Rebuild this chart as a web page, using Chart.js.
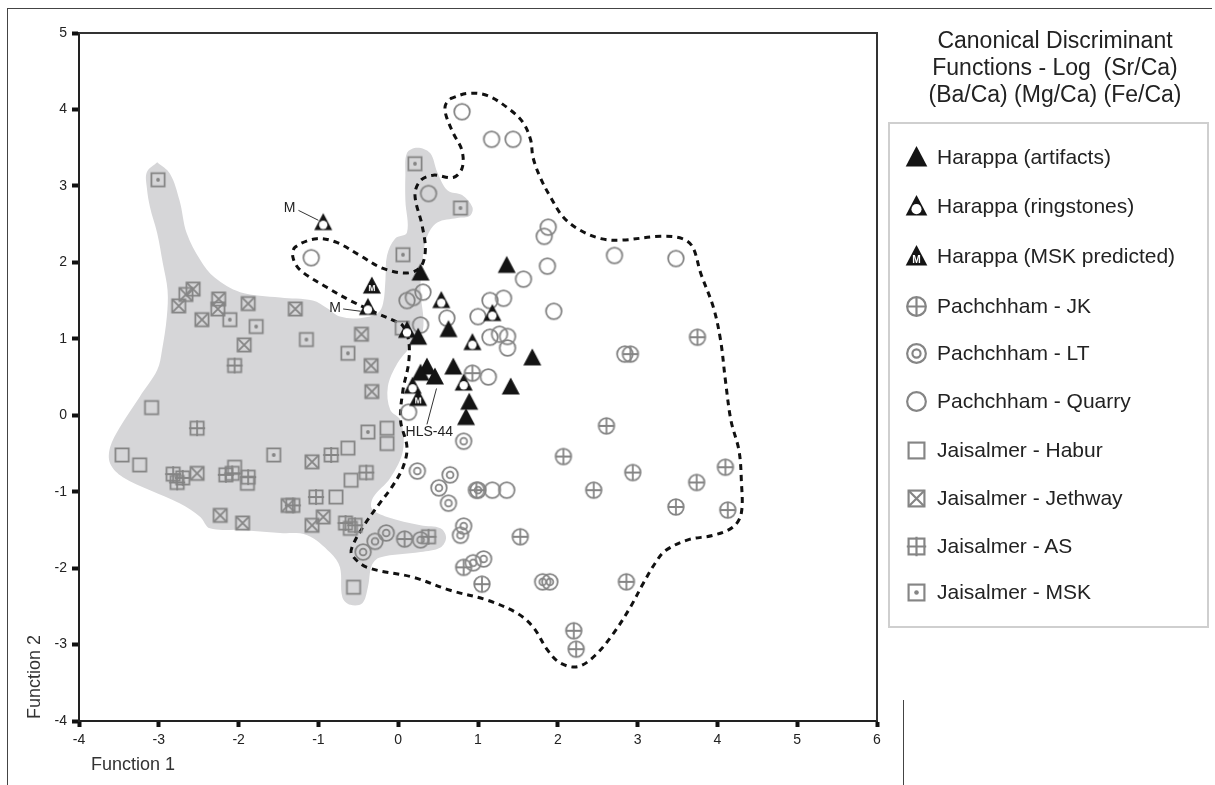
<!DOCTYPE html>
<html><head><meta charset="utf-8">
<script src="https://cdn.jsdelivr.net/npm/chart.js@4.4.1/dist/chart.umd.min.js"></script>
<style>
html,body{margin:0;padding:0;background:#fff;}
#wrap{position:relative;width:1215px;height:785px;overflow:hidden;font-family:"Liberation Sans",Arial,sans-serif;}
#c{position:absolute;left:0;top:0;}
#frameTop{position:absolute;left:7px;top:8px;width:1205px;height:0;border-top:1px solid #444;}
#frameLeft{position:absolute;left:7px;top:8px;width:0;height:790px;border-left:1px solid #444;}
#frameRight{position:absolute;left:903px;top:700px;width:0;height:90px;border-left:1px solid #444;}
#title{position:absolute;left:895px;width:320px;top:27px;text-align:center;font-size:23px;line-height:27px;color:#222;}
#legend{position:absolute;left:888px;top:122px;width:321px;height:506px;border:2px solid #cfcfcf;box-sizing:border-box;}
.item{position:absolute;left:12px;height:30px;display:flex;align-items:center;font-size:21px;color:#222;white-space:nowrap;}
.item canvas{margin-right:6px;}
</style></head>
<body><div id="wrap">
<canvas id="c" width="1215" height="785"></canvas>
<div id="frameTop"></div><div id="frameLeft"></div><div id="frameRight"></div>
<div id="title">Canonical Discriminant<br>Functions - Log&nbsp; (Sr/Ca)<br>(Ba/Ca) (Mg/Ca) (Fe/Ca)</div>
<div id="legend"></div>
</div>
<script>
// ---- categories ----
const seriesNames = ["Harappa (artifacts)","Harappa (ringstones)","Harappa (MSK predicted)","Pachchham - JK","Pachchham - LT","Pachchham - Quarry","Jaisalmer - Habur","Jaisalmer - Jethway","Jaisalmer - AS","Jaisalmer - MSK"];
const xTicks = [-4,-3,-2,-1,0,1,2,3,4,5,6];
const yTicks = [-4,-3,-2,-1,0,1,2,3,4,5];

// ---- series values [Function 1, Function 2] ----
const harappaArtifacts = [[0.28,1.86],[1.36,1.96],[0.63,1.12],[0.25,1.02],[0.36,0.63],[0.28,0.55],[0.46,0.50],[0.69,0.63],[1.68,0.75],[1.41,0.37],[0.89,0.17],[0.85,-0.03]];
const harappaRingstones = [[-0.94,2.52],[-0.38,1.41],[0.54,1.50],[1.18,1.33],[0.93,0.95],[0.11,1.11],[0.82,0.42],[0.18,0.38]];
const harappaMSKPredicted = [[-0.33,1.69],[0.25,0.22]];
const pachchhamJK = [[0.93,0.55],[2.61,-0.14],[2.07,-0.54],[2.94,-0.75],[2.45,-0.98],[4.10,-0.68],[3.74,-0.88],[3.48,-1.20],[4.13,-1.24],[1.53,-1.59],[2.86,-2.18],[2.20,-2.82],[2.23,-3.06],[2.91,0.80],[3.75,1.02],[0.98,-0.98],[0.08,-1.62],[0.82,-1.99],[1.05,-2.21]];
const pachchhamLT = [[0.82,-0.34],[0.24,-0.73],[0.65,-0.78],[0.51,-0.95],[0.63,-1.15],[1.00,-0.98],[-0.44,-1.79],[-0.29,-1.65],[-0.15,-1.54],[0.28,-1.63],[0.82,-1.45],[0.78,-1.57],[0.94,-1.93],[1.07,-1.88],[1.81,-2.18],[1.90,-2.18]];
const pachchhamQuarry = [[0.80,3.97],[1.17,3.61],[1.44,3.61],[0.38,2.90],[1.88,2.46],[1.83,2.34],[1.87,1.95],[2.71,2.09],[3.48,2.05],[1.57,1.78],[1.95,1.36],[-1.09,2.06],[0.11,1.50],[0.19,1.54],[0.31,1.61],[0.28,1.18],[0.61,1.27],[1.15,1.50],[1.32,1.53],[1.00,1.29],[1.15,1.02],[1.27,1.06],[1.37,1.03],[1.37,0.88],[1.13,0.50],[0.13,0.04],[2.84,0.80],[1.18,-0.98],[1.36,-0.98]];
const jaisalmerHabur = [[-3.09,0.10],[-3.46,-0.52],[-3.24,-0.65],[-2.05,-0.68],[-1.89,-0.89],[-0.78,-1.07],[-0.63,-0.43],[-0.59,-0.85],[-0.14,-0.17],[-0.14,-0.37],[-0.60,-1.48],[-0.56,-2.25],[0.05,1.14]];
const jaisalmerJethway = [[-2.57,1.65],[-2.66,1.58],[-2.75,1.43],[-2.46,1.25],[-2.25,1.52],[-2.26,1.39],[-1.88,1.46],[-1.29,1.39],[-1.93,0.92],[-0.46,1.06],[-0.34,0.65],[-0.33,0.31],[-2.52,-0.76],[-1.08,-0.61],[-1.38,-1.18],[-2.23,-1.31],[-1.95,-1.41],[-0.94,-1.33],[-1.08,-1.44]];
const jaisalmerAS = [[-2.05,0.65],[-2.52,-0.17],[-2.82,-0.77],[-2.77,-0.88],[-2.70,-0.82],[-2.16,-0.78],[-2.08,-0.76],[-1.88,-0.81],[-0.84,-0.52],[-0.40,-0.75],[-1.03,-1.07],[-1.32,-1.18],[-0.66,-1.41],[-0.54,-1.44],[0.38,-1.59]];
const jaisalmerMSK = [[-3.01,3.08],[-2.11,1.25],[-1.78,1.16],[-1.15,0.99],[-0.63,0.81],[-1.56,-0.52],[-0.38,-0.22],[0.06,2.10],[0.21,3.29],[0.78,2.71]];

// ---- group outlines (data units) ----
const jaisalmerRegion = [[-3.02,3.31],[-2.86,3.16],[-2.74,2.81],[-2.65,2.38],[-2.48,2.03],[-2.30,1.80],[-1.98,1.61],[-1.48,1.54],[-1.07,1.50],[-0.89,1.40],[-0.73,1.29],[-0.48,1.27],[-0.26,1.33],[-0.19,1.46],[-0.16,1.77],[-0.14,2.09],[-0.04,2.31],[0.11,2.39],[0.09,2.81],[0.09,3.14],[0.11,3.43],[0.24,3.50],[0.40,3.43],[0.49,3.18],[0.62,2.94],[0.80,2.88],[0.93,2.72],[0.90,2.61],[0.74,2.58],[0.49,2.52],[0.36,2.33],[0.30,1.99],[0.28,1.63],[0.31,1.11],[0.15,0.89],[-0.01,0.68],[-0.13,0.37],[-0.10,0.07],[0.03,-0.07],[0.06,-0.46],[-0.10,-0.82],[-0.31,-1.07],[-0.33,-1.22],[-0.14,-1.33],[0.28,-1.44],[0.53,-1.48],[0.60,-1.60],[0.53,-1.73],[0.28,-1.79],[-0.23,-1.86],[-0.33,-1.96],[-0.38,-2.25],[-0.45,-2.46],[-0.60,-2.48],[-0.70,-2.38],[-0.73,-1.99],[-0.85,-1.80],[-1.14,-1.57],[-1.48,-1.54],[-1.98,-1.50],[-2.36,-1.48],[-2.48,-1.33],[-2.74,-1.15],[-3.11,-0.98],[-3.45,-0.81],[-3.61,-0.63],[-3.61,-0.42],[-3.49,-0.16],[-3.24,0.24],[-3.02,0.59],[-2.96,0.85],[-2.90,1.28],[-2.89,1.63],[-2.95,1.99],[-3.02,2.38],[-3.11,2.72],[-3.15,2.98],[-3.15,3.18],[-3.02,3.31]];
const pachchhamContour = [[0.65,4.14],[0.87,4.21],[1.12,4.18],[1.41,3.99],[1.57,3.82],[1.66,3.60],[1.69,3.37],[1.78,3.11],[1.91,2.85],[2.07,2.59],[2.28,2.42],[2.54,2.31],[2.79,2.29],[3.29,2.34],[3.56,2.31],[3.69,2.20],[3.79,1.86],[3.95,1.41],[4.04,0.98],[4.10,0.46],[4.17,-0.07],[4.27,-0.46],[4.30,-0.85],[4.30,-1.28],[4.20,-1.46],[3.95,-1.57],[3.63,-1.63],[3.35,-1.77],[3.23,-1.92],[3.07,-2.20],[2.91,-2.51],[2.70,-2.85],[2.47,-3.14],[2.25,-3.29],[2.03,-3.24],[1.87,-3.07],[1.69,-2.77],[1.49,-2.59],[1.12,-2.42],[0.65,-2.29],[0.19,-2.12],[-0.39,-1.99],[-0.58,-1.83],[-0.58,-1.73],[-0.44,-1.46],[-0.23,-1.15],[-0.08,-0.94],[0.06,-0.68],[0.11,-0.42],[0.03,-0.07],[0.06,0.33],[0.13,0.68],[0.13,0.98],[0.05,1.18],[-0.06,1.24],[-0.26,1.33],[-0.60,1.50],[-0.89,1.67],[-1.23,1.90],[-1.32,2.07],[-1.29,2.20],[-1.02,2.31],[-0.77,2.26],[-0.48,2.09],[-0.19,1.92],[0.11,1.86],[0.28,1.94],[0.34,2.16],[0.30,2.48],[0.21,2.88],[0.28,3.07],[0.44,3.14],[0.69,3.11],[0.80,3.23],[0.80,3.46],[0.69,3.69],[0.60,3.92],[0.59,4.05],[0.65,4.14]];

// ---- annotations: [text, textX, textY, lineX1, lineY1, lineX2, lineY2] ----
const annotations = [["M",-1.36,2.71,-1.25,2.68,-1.00,2.55],["M",-0.79,1.40,-0.69,1.39,-0.47,1.36],["HLS-44",0.39,-0.22,0.36,-0.12,0.48,0.35]];

const FONT = '"Liberation Sans", Arial, sans-serif';
const GRAY = '#858585';

function makeMarker(kind, k) {
  const s = Math.ceil(24 * k); const c = document.createElement('canvas'); c.width = s; c.height = s;
  const g = c.getContext('2d'); const m = s / 2;
  g.lineWidth = 1.8 * k; g.strokeStyle = GRAY; g.fillStyle = GRAY;
  const r = 7.8 * k, h = 6.6 * k;
  if (kind.startsWith('tri')) {
    g.fillStyle = '#141414'; g.beginPath();
    g.moveTo(m, m - 9.5 * k); g.lineTo(m + 9 * k, m + 7.5 * k); g.lineTo(m - 9 * k, m + 7.5 * k); g.closePath(); g.fill();
    if (kind === 'triO') { g.fillStyle = '#fff'; g.beginPath(); g.arc(m, m + 2.2 * k, 4.2 * k, 0, 2 * Math.PI); g.fill(); }
    if (kind === 'triM') { g.fillStyle = '#fff'; g.font = 'bold ' + (8.5 * k) + 'px ' + FONT; g.textAlign = 'center'; g.textBaseline = 'middle'; g.fillText('M', m, m + 3 * k); }
  } else if (kind.startsWith('circ')) {
    g.beginPath(); g.arc(m, m, r, 0, 2 * Math.PI); g.stroke();
    if (kind === 'circPlus') { g.beginPath(); g.moveTo(m - r, m); g.lineTo(m + r, m); g.moveTo(m, m - r); g.lineTo(m, m + r); g.stroke(); }
    if (kind === 'circCirc') { g.beginPath(); g.arc(m, m, 3.4 * k, 0, 2 * Math.PI); g.stroke(); }
  } else {
    g.strokeRect(m - h, m - h, 2 * h, 2 * h);
    if (kind === 'sqX') { g.beginPath(); g.moveTo(m - h, m - h); g.lineTo(m + h, m + h); g.moveTo(m + h, m - h); g.lineTo(m - h, m + h); g.stroke(); }
    if (kind === 'sqPlus') { g.beginPath(); g.moveTo(m - h - 1.5 * k, m); g.lineTo(m + h + 1.5 * k, m); g.moveTo(m, m - h - 1.5 * k); g.lineTo(m, m + h + 1.5 * k); g.stroke(); }
    if (kind === 'sqDot') { g.beginPath(); g.arc(m, m, 1.9 * k, 0, 2 * Math.PI); g.fill(); }
  }
  return c;
}

const groups = [
  [harappaArtifacts, 'tri'], [harappaRingstones, 'triO'], [harappaMSKPredicted, 'triM'],
  [pachchhamJK, 'circPlus'], [pachchhamLT, 'circCirc'], [pachchhamQuarry, 'circ'],
  [jaisalmerHabur, 'sq'], [jaisalmerJethway, 'sqX'], [jaisalmerAS, 'sqPlus'], [jaisalmerMSK, 'sqDot']
];
const toXY = a => a.map(p => ({x: p[0], y: p[1]}));

const datasets = [];
groups.forEach((gr, i) => {
  datasets.push({ label: seriesNames[i], data: toXY(gr[0]), pointStyle: makeMarker(gr[1], 1), pointRadius: 9, showLine: false, order: i < 3 ? 1 : 5 });
});
datasets.push({ label: 'region', data: toXY(jaisalmerRegion), showLine: true, pointRadius: 0, tension: 0.35, fill: 'shape', backgroundColor: '#d6d6d8', borderColor: 'rgba(0,0,0,0)', borderWidth: 0, order: 20 });
datasets.push({ label: 'contour', data: toXY(pachchhamContour), showLine: true, pointRadius: 0, tension: 0.35, fill: false, borderColor: '#111', borderWidth: 3, borderDash: [6, 5], order: 10 });

const framePlugin = {
  id: 'frame',
  afterDraw(chart) {
    const {ctx, chartArea: a} = chart;
    ctx.save();
    ctx.strokeStyle = '#333'; ctx.lineWidth = 2;
    ctx.beginPath(); ctx.moveTo(a.left, a.top); ctx.lineTo(a.right, a.top); ctx.lineTo(a.right, a.bottom); ctx.stroke();
    ctx.fillStyle = '#333'; ctx.font = '18px ' + FONT; ctx.textBaseline = 'middle';
    ctx.textAlign = 'left'; ctx.fillText('Function 1', 91, 765);
    ctx.translate(35, 677); ctx.rotate(-Math.PI / 2); ctx.textAlign = 'center'; ctx.fillText('Function 2', 0, 0);
    ctx.restore();
  },
  afterDatasetsDraw(chart) {
    const {ctx, scales: {x, y}} = chart;
    ctx.save();
    annotations.forEach(a => {
      ctx.strokeStyle = '#333'; ctx.lineWidth = 1;
      ctx.beginPath(); ctx.moveTo(x.getPixelForValue(a[3]), y.getPixelForValue(a[4])); ctx.lineTo(x.getPixelForValue(a[5]), y.getPixelForValue(a[6])); ctx.stroke();
      ctx.fillStyle = '#222'; ctx.font = '14px ' + FONT; ctx.textAlign = 'center'; ctx.textBaseline = 'middle';
      ctx.fillText(a[0], x.getPixelForValue(a[1]), y.getPixelForValue(a[2]));
    });
    ctx.restore();
  }
};

new Chart(document.getElementById('c'), {
  type: 'scatter',
  data: { datasets },
  options: {
    responsive: false, animation: false, devicePixelRatio: 1,
    layout: { padding: { left: 0, right: 338, top: 33, bottom: 0 } },
    plugins: { legend: { display: false }, tooltip: { enabled: false } },
    scales: {
      x: { type: 'linear', min: xTicks[0], max: xTicks[xTicks.length - 1],
        afterFit(s) { s.height = 64; },
        afterBuildTicks(s) { s.ticks = xTicks.map(v => ({value: v})); },
        ticks: { font: { size: 14, family: FONT }, color: '#222', padding: 5 },
        grid: { drawOnChartArea: false, tickLength: 6, tickWidth: 4, tickColor: '#111' },
        border: { color: '#222', width: 2 } },
      y: { type: 'linear', min: yTicks[0], max: yTicks[yTicks.length - 1],
        afterFit(s) { s.width = 79; },
        afterBuildTicks(s) { s.ticks = yTicks.map(v => ({value: v})); },
        ticks: { font: { size: 14, family: FONT }, color: '#222', padding: 5 },
        grid: { drawOnChartArea: false, tickLength: 7, tickWidth: 4, tickColor: '#111' },
        border: { color: '#222', width: 2 } }
    }
  },
  plugins: [framePlugin]
});

// ---- HTML legend ----
const legend = document.getElementById('legend');
const itemTops = [18, 67, 117, 167, 214, 262, 311, 359, 407, 453];
groups.forEach((gr, i) => {
  const d = document.createElement('div'); d.className = 'item'; d.style.top = itemTops[i] + 'px';
  d.appendChild(makeMarker(gr[1], 1.2));
  d.appendChild(document.createTextNode(seriesNames[i]));
  legend.appendChild(d);
});
</script>
</body></html>
